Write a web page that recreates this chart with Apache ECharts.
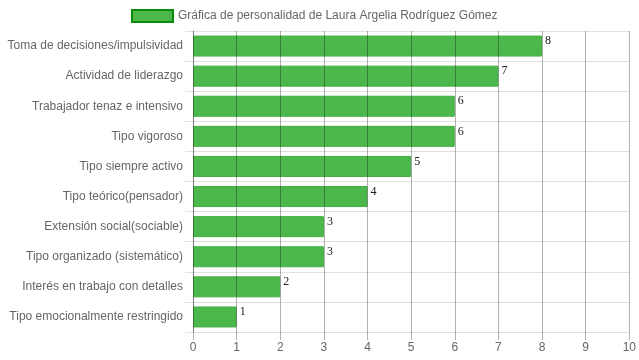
<!DOCTYPE html>
<html><head><meta charset="utf-8">
<script src="https://cdn.jsdelivr.net/npm/echarts@6/dist/echarts.min.js"></script>
<style>html,body{margin:0;padding:0;background:#fff}#c{width:639px;height:360px}</style>
</head><body><div id="c"></div>
<script>
var categories = ["Toma de decisiones/impulsividad","Actividad de liderazgo","Trabajador tenaz e intensivo","Tipo vigoroso","Tipo siempre activo","Tipo teórico(pensador)","Extensión social(sociable)","Tipo organizado (sistemático)","Interés en trabajo con detalles","Tipo emocionalmente restringido"];
var values = [8,7,6,6,5,4,3,3,2,1];
var seriesName = "Gráfica de personalidad de Laura Argelia Rodríguez Gómez";
var chart = echarts.init(document.getElementById('c'));
chart.setOption({
  animation:false,
  textStyle:{fontFamily:'Liberation Sans, Arial, sans-serif'},
  legend:{top:9,left:126,padding:[0,5],itemWidth:41,itemHeight:12,itemGap:6,icon:'rect',
    textStyle:{color:'#666',fontSize:12},
    data:[{name:seriesName,itemStyle:{color:'#4cb84c',borderColor:'#0a8a0a',borderWidth:2}}]},
  grid:{left:193,right:9,top:31,bottom:28,containLabel:false},
  xAxis:{type:'value',min:0,max:10,interval:1,z:3,
    axisLine:{show:false},
    axisTick:{show:true,length:8,lineStyle:{color:'rgba(0,0,0,0.3)'}},
    axisLabel:{color:'#666',fontSize:12,margin:10},
    splitLine:{show:true,lineStyle:{color:'rgba(0,0,0,0.3)',width:1}}},
  yAxis:{type:'category',data:categories,inverse:true,
    axisLine:{show:true,lineStyle:{color:'rgba(0,0,0,0.3)'}},
    axisTick:{show:true,length:8,lineStyle:{color:'rgba(0,0,0,0.12)'}},
    axisLabel:{color:'#666',fontSize:12,margin:10},
    splitLine:{show:true,lineStyle:{color:'rgba(0,0,0,0.12)'}}},
  series:[{name:seriesName,type:'bar',data:values,barWidth:21,
    itemStyle:{color:'#4cb84c',borderColor:'#45ad45',borderWidth:1},
    label:{show:true,position:'right',distance:3,offset:[0,-5],color:'#222',fontSize:12,fontFamily:'Liberation Serif, Times New Roman, serif'}}]
});
</script></body></html>
